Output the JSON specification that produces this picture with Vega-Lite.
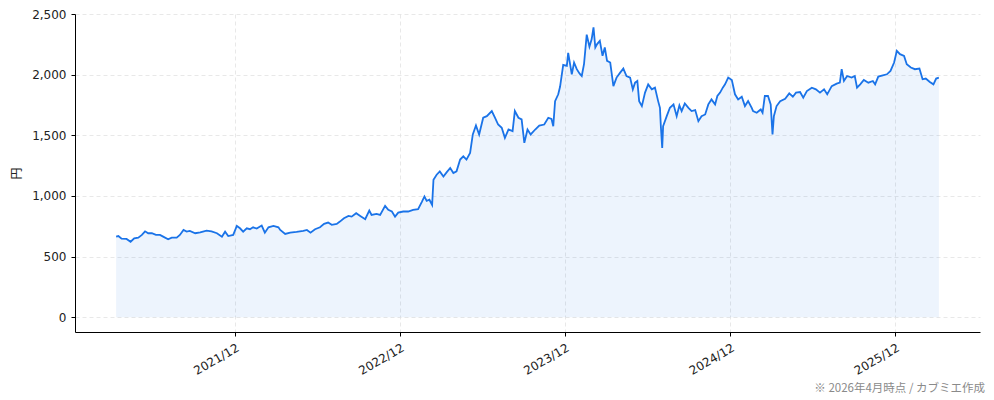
{
  "$schema": "https://vega.github.io/schema/vega-lite/v6.json",
  "width": 905,
  "height": 318,
  "autosize": {"type": "none"},
  "padding": {"left": 75, "top": 14, "right": 14, "bottom": 68},
  "background": "white",
  "config": {
    "font": "DejaVu Sans",
    "view": {"stroke": null},
    "axis": {
      "labelFont": "DejaVu Sans", "titleFont": "Noto Sans CJK JP",
      "labelFontSize": 12, "labelColor": "#222", "titleFontSize": 12, "titleFontWeight": "normal", "titleColor": "#222",
      "domainColor": "#000", "domainWidth": 1, "tickColor": "#000", "tickSize": 4,
      "grid": true, "gridColor": "#e2e2e2", "gridDash": [4, 3], "gridWidth": 0.8
    }
  },
  "title": {
    "text": "※ 2026年4月時点 / カブミエ作成",
    "orient": "bottom", "anchor": "end", "frame": "group",
    "fontSize": 11.5, "fontWeight": "normal", "color": "#8a8a8a", "font": "Noto Sans CJK JP",
    "offset": 7, "dx": 5
  },
  "data": {"values": [
    {"date": "2021-03-13", "price": 665}, {"date": "2021-03-18", "price": 670}, {"date": "2021-03-25", "price": 648},
    {"date": "2021-04-05", "price": 646}, {"date": "2021-04-14", "price": 623}, {"date": "2021-04-22", "price": 651},
    {"date": "2021-05-01", "price": 657}, {"date": "2021-05-09", "price": 679}, {"date": "2021-05-16", "price": 709},
    {"date": "2021-05-23", "price": 693}, {"date": "2021-05-31", "price": 693}, {"date": "2021-06-09", "price": 679},
    {"date": "2021-06-18", "price": 679}, {"date": "2021-06-25", "price": 665}, {"date": "2021-07-06", "price": 643},
    {"date": "2021-07-14", "price": 657}, {"date": "2021-07-25", "price": 657}, {"date": "2021-08-01", "price": 679},
    {"date": "2021-08-09", "price": 720}, {"date": "2021-08-16", "price": 706}, {"date": "2021-08-23", "price": 712},
    {"date": "2021-09-04", "price": 693}, {"date": "2021-09-15", "price": 701}, {"date": "2021-09-29", "price": 714},
    {"date": "2021-10-10", "price": 709}, {"date": "2021-10-22", "price": 693}, {"date": "2021-11-02", "price": 665},
    {"date": "2021-11-09", "price": 706}, {"date": "2021-11-16", "price": 670}, {"date": "2021-11-27", "price": 679},
    {"date": "2021-12-05", "price": 753}, {"date": "2021-12-12", "price": 734}, {"date": "2021-12-19", "price": 706},
    {"date": "2021-12-27", "price": 734}, {"date": "2022-01-03", "price": 726}, {"date": "2022-01-10", "price": 742},
    {"date": "2022-01-18", "price": 731}, {"date": "2022-01-29", "price": 756}, {"date": "2022-02-05", "price": 698},
    {"date": "2022-02-13", "price": 742}, {"date": "2022-02-24", "price": 753}, {"date": "2022-03-07", "price": 742},
    {"date": "2022-03-11", "price": 720}, {"date": "2022-03-22", "price": 687}, {"date": "2022-04-02", "price": 698},
    {"date": "2022-04-16", "price": 704}, {"date": "2022-05-01", "price": 712}, {"date": "2022-05-09", "price": 720},
    {"date": "2022-05-17", "price": 698}, {"date": "2022-05-27", "price": 726}, {"date": "2022-06-07", "price": 742},
    {"date": "2022-06-16", "price": 770}, {"date": "2022-06-25", "price": 781}, {"date": "2022-07-03", "price": 762},
    {"date": "2022-07-14", "price": 770}, {"date": "2022-07-21", "price": 789}, {"date": "2022-07-30", "price": 817},
    {"date": "2022-08-09", "price": 836}, {"date": "2022-08-16", "price": 830}, {"date": "2022-08-26", "price": 858},
    {"date": "2022-09-04", "price": 836}, {"date": "2022-09-15", "price": 809}, {"date": "2022-09-24", "price": 880},
    {"date": "2022-09-29", "price": 844}, {"date": "2022-10-10", "price": 853}, {"date": "2022-10-18", "price": 844},
    {"date": "2022-10-29", "price": 919}, {"date": "2022-11-05", "price": 886}, {"date": "2022-11-13", "price": 872},
    {"date": "2022-11-20", "price": 830}, {"date": "2022-11-27", "price": 863}, {"date": "2022-12-08", "price": 872},
    {"date": "2022-12-19", "price": 872}, {"date": "2022-12-30", "price": 886}, {"date": "2023-01-10", "price": 892},
    {"date": "2023-01-18", "price": 950}, {"date": "2023-01-24", "price": 996}, {"date": "2023-01-29", "price": 960},
    {"date": "2023-02-04", "price": 969}, {"date": "2023-02-10", "price": 927}, {"date": "2023-02-13", "price": 1134},
    {"date": "2023-02-20", "price": 1175}, {"date": "2023-02-27", "price": 1203}, {"date": "2023-03-07", "price": 1161},
    {"date": "2023-03-14", "price": 1195}, {"date": "2023-03-22", "price": 1231}, {"date": "2023-03-29", "price": 1189},
    {"date": "2023-04-05", "price": 1203}, {"date": "2023-04-13", "price": 1300}, {"date": "2023-04-20", "price": 1327},
    {"date": "2023-04-27", "price": 1300}, {"date": "2023-05-05", "price": 1355}, {"date": "2023-05-11", "price": 1507},
    {"date": "2023-05-18", "price": 1581}, {"date": "2023-05-25", "price": 1507}, {"date": "2023-06-03", "price": 1645},
    {"date": "2023-06-11", "price": 1658}, {"date": "2023-06-22", "price": 1700}, {"date": "2023-06-29", "price": 1645},
    {"date": "2023-07-06", "price": 1589}, {"date": "2023-07-14", "price": 1562}, {"date": "2023-07-21", "price": 1479},
    {"date": "2023-07-29", "price": 1548}, {"date": "2023-08-07", "price": 1534}, {"date": "2023-08-12", "price": 1700},
    {"date": "2023-08-20", "price": 1645}, {"date": "2023-08-27", "price": 1631}, {"date": "2023-09-02", "price": 1438},
    {"date": "2023-09-09", "price": 1548}, {"date": "2023-09-16", "price": 1507}, {"date": "2023-09-26", "price": 1548},
    {"date": "2023-10-05", "price": 1581}, {"date": "2023-10-16", "price": 1589}, {"date": "2023-10-25", "price": 1645},
    {"date": "2023-11-01", "price": 1636}, {"date": "2023-11-05", "price": 1575}, {"date": "2023-11-09", "price": 1782},
    {"date": "2023-11-16", "price": 1838}, {"date": "2023-11-20", "price": 1900}, {"date": "2023-11-27", "price": 2080},
    {"date": "2023-12-05", "price": 2072}, {"date": "2023-12-08", "price": 2180}, {"date": "2023-12-16", "price": 2003},
    {"date": "2023-12-21", "price": 2100}, {"date": "2023-12-27", "price": 2045}, {"date": "2024-01-02", "price": 2010},
    {"date": "2024-01-07", "price": 1989}, {"date": "2024-01-12", "price": 2086}, {"date": "2024-01-18", "price": 2330},
    {"date": "2024-01-24", "price": 2230}, {"date": "2024-01-29", "price": 2293}, {"date": "2024-02-02", "price": 2390},
    {"date": "2024-02-06", "price": 2224}, {"date": "2024-02-10", "price": 2252}, {"date": "2024-02-16", "price": 2279},
    {"date": "2024-02-22", "price": 2155}, {"date": "2024-02-27", "price": 2224}, {"date": "2024-03-03", "price": 2114},
    {"date": "2024-03-10", "price": 2100}, {"date": "2024-03-17", "price": 1906}, {"date": "2024-03-24", "price": 1976},
    {"date": "2024-04-01", "price": 2017}, {"date": "2024-04-08", "price": 2050}, {"date": "2024-04-15", "price": 1989},
    {"date": "2024-04-23", "price": 1976}, {"date": "2024-04-29", "price": 1879}, {"date": "2024-05-04", "price": 1934},
    {"date": "2024-05-09", "price": 1948}, {"date": "2024-05-13", "price": 1782}, {"date": "2024-05-19", "price": 1741},
    {"date": "2024-05-26", "price": 1852}, {"date": "2024-06-02", "price": 1920}, {"date": "2024-06-10", "price": 1879},
    {"date": "2024-06-17", "price": 1893}, {"date": "2024-06-24", "price": 1782}, {"date": "2024-06-28", "price": 1727},
    {"date": "2024-06-30", "price": 1575}, {"date": "2024-07-03", "price": 1396}, {"date": "2024-07-05", "price": 1575},
    {"date": "2024-07-13", "price": 1658}, {"date": "2024-07-20", "price": 1727}, {"date": "2024-07-28", "price": 1755},
    {"date": "2024-08-04", "price": 1658}, {"date": "2024-08-10", "price": 1747}, {"date": "2024-08-15", "price": 1700},
    {"date": "2024-08-22", "price": 1763}, {"date": "2024-08-30", "price": 1727}, {"date": "2024-09-06", "price": 1700},
    {"date": "2024-09-14", "price": 1708}, {"date": "2024-09-21", "price": 1617}, {"date": "2024-09-28", "price": 1658},
    {"date": "2024-10-06", "price": 1672}, {"date": "2024-10-13", "price": 1755}, {"date": "2024-10-20", "price": 1796},
    {"date": "2024-10-28", "price": 1755}, {"date": "2024-11-02", "price": 1824}, {"date": "2024-11-08", "price": 1852},
    {"date": "2024-11-14", "price": 1893}, {"date": "2024-11-19", "price": 1920}, {"date": "2024-11-26", "price": 1976},
    {"date": "2024-12-04", "price": 1956}, {"date": "2024-12-11", "price": 1838}, {"date": "2024-12-18", "price": 1796},
    {"date": "2024-12-26", "price": 1818}, {"date": "2025-01-02", "price": 1741}, {"date": "2025-01-09", "price": 1782},
    {"date": "2025-01-17", "price": 1727}, {"date": "2025-01-20", "price": 1700}, {"date": "2025-01-28", "price": 1686},
    {"date": "2025-02-06", "price": 1713}, {"date": "2025-02-10", "price": 1686}, {"date": "2025-02-15", "price": 1824},
    {"date": "2025-02-22", "price": 1824}, {"date": "2025-02-28", "price": 1755}, {"date": "2025-03-04", "price": 1507},
    {"date": "2025-03-07", "price": 1658}, {"date": "2025-03-13", "price": 1741}, {"date": "2025-03-21", "price": 1782},
    {"date": "2025-04-01", "price": 1802}, {"date": "2025-04-10", "price": 1846}, {"date": "2025-04-18", "price": 1818},
    {"date": "2025-04-25", "price": 1852}, {"date": "2025-05-04", "price": 1857}, {"date": "2025-05-11", "price": 1810},
    {"date": "2025-05-19", "price": 1865}, {"date": "2025-05-30", "price": 1893}, {"date": "2025-06-08", "price": 1879},
    {"date": "2025-06-17", "price": 1852}, {"date": "2025-06-26", "price": 1879}, {"date": "2025-07-03", "price": 1838},
    {"date": "2025-07-13", "price": 1906}, {"date": "2025-07-24", "price": 1926}, {"date": "2025-07-31", "price": 1934},
    {"date": "2025-08-04", "price": 2045}, {"date": "2025-08-09", "price": 1948}, {"date": "2025-08-16", "price": 1989},
    {"date": "2025-08-26", "price": 1976}, {"date": "2025-09-02", "price": 1989}, {"date": "2025-09-07", "price": 1893},
    {"date": "2025-09-14", "price": 1920}, {"date": "2025-09-22", "price": 1956}, {"date": "2025-10-02", "price": 1934},
    {"date": "2025-10-12", "price": 1948}, {"date": "2025-10-17", "price": 1920}, {"date": "2025-10-24", "price": 1984},
    {"date": "2025-11-03", "price": 1995}, {"date": "2025-11-12", "price": 2003}, {"date": "2025-11-20", "price": 2031},
    {"date": "2025-11-28", "price": 2100}, {"date": "2025-12-04", "price": 2196}, {"date": "2025-12-11", "price": 2169},
    {"date": "2025-12-20", "price": 2155}, {"date": "2025-12-26", "price": 2086}, {"date": "2026-01-04", "price": 2059},
    {"date": "2026-01-13", "price": 2045}, {"date": "2026-01-23", "price": 2050}, {"date": "2026-01-30", "price": 1962},
    {"date": "2026-02-06", "price": 1968}, {"date": "2026-02-15", "price": 1940}, {"date": "2026-02-23", "price": 1920},
    {"date": "2026-03-01", "price": 1968}, {"date": "2026-03-07", "price": 1976}
  ]},
  "encoding": {
    "x": {
      "field": "date", "type": "temporal", "title": null,
      "scale": {"type": "utc", "domain": [
        {"year": 2020, "month": 12, "date": 12, "utc": true},
        {"year": 2026, "month": 6, "date": 6, "utc": true}
      ]},
      "axis": {
        "values": [
          {"year": 2021, "month": 12, "date": 1, "utc": true},
          {"year": 2022, "month": 12, "date": 1, "utc": true},
          {"year": 2023, "month": 12, "date": 1, "utc": true},
          {"year": 2024, "month": 12, "date": 1, "utc": true},
          {"year": 2025, "month": 12, "date": 1, "utc": true}
        ],
        "format": "%Y/%m", "labelAngle": -30, "labelAlign": "right", "labelBaseline": "top",
        "labelPadding": 6, "labelFlush": false, "labelOverlap": false
      }
    },
    "y": {
      "field": "price", "type": "quantitative", "title": "円",
      "scale": {"domain": [-121, 2500], "nice": false, "zero": false},
      "axis": {"values": [0, 500, 1000, 1500, 2000, 2500], "format": ",d", "titlePadding": 8, "labelPadding": 5}
    }
  },
  "layer": [
    {"mark": {"type": "area", "color": "#1a73e8", "opacity": 0.08}, "encoding": {"y2": {"datum": 0}}},
    {"mark": {"type": "line", "color": "#1a73e8", "strokeWidth": 1.8}}
  ]
}
